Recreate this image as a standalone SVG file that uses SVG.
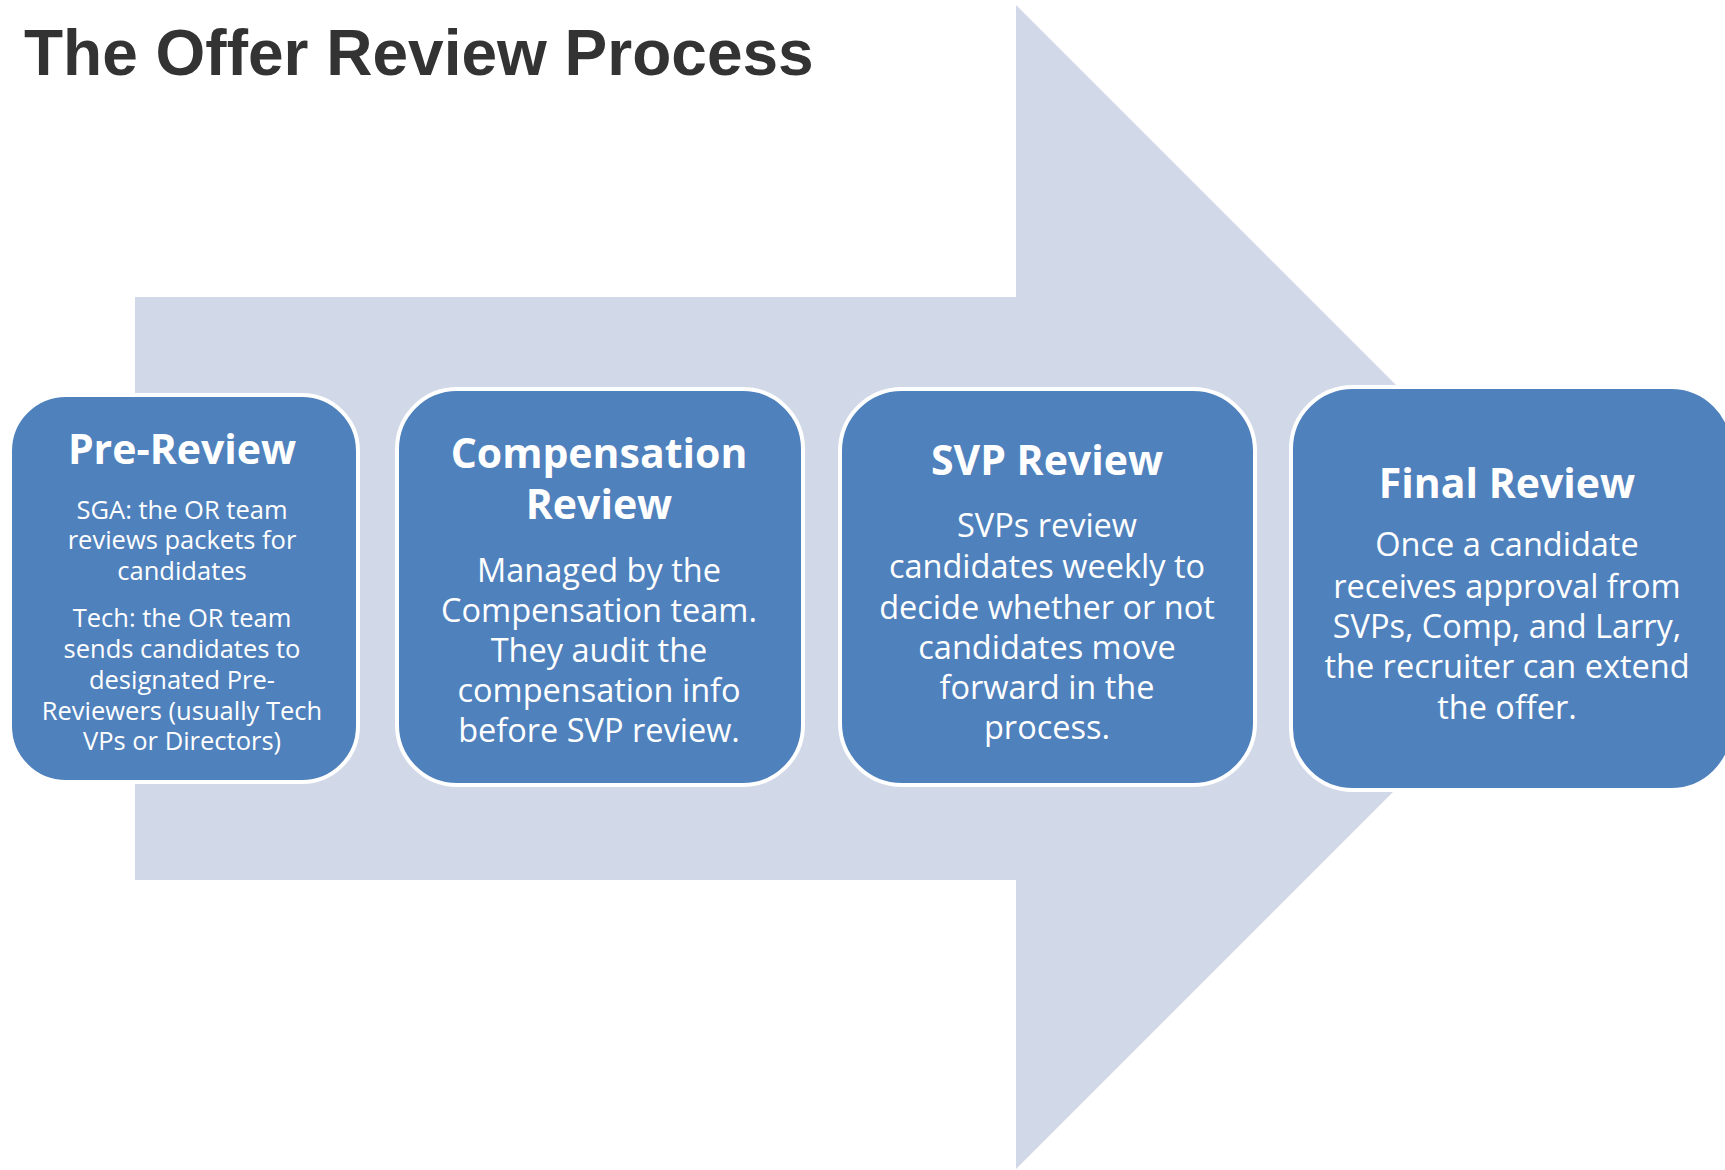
<svg xmlns="http://www.w3.org/2000/svg" width="1725" height="1170" viewBox="0 0 1725 1170">
<style>
.title{font-family:"Liberation Sans",Arial,sans-serif;font-weight:bold;font-size:64px;fill:#333333}
.box{fill:#4f81bd;stroke:#ffffff;stroke-width:4}
.h{font-family:"Open Sans","Noto Sans",sans-serif;font-weight:bold;font-size:41px;fill:#ffffff;text-anchor:middle}
.b{font-family:"Open Sans","Noto Sans",sans-serif;font-size:32.5px;fill:#ffffff;text-anchor:middle}
.s{font-family:"Open Sans","Noto Sans",sans-serif;font-size:25.5px;fill:#ffffff;text-anchor:middle}
</style>
<rect width="1725" height="1170" fill="#ffffff"/>
<g id="arrow">
<polygon points="135,297 1016,297 1016,5 1598,587 1016,1169 1016,880 135,880" fill="#d1d8e7"/>
</g>
<text class="title" x="24" y="75">The Offer Review Process</text>
<g id="connectors"></g>
<g id="pre-review">
<rect class="box" x="10" y="395" width="348" height="387" rx="56" ry="56"/>
<text class="h" x="182" y="464">Pre-Review</text>
<text class="s" x="182" y="519">SGA: the OR team</text>
<text class="s" x="182" y="549">reviews packets for</text>
<text class="s" x="182" y="580">candidates</text>
<text class="s" x="182" y="627">Tech: the OR team</text>
<text class="s" x="182" y="658">sends candidates to</text>
<text class="s" x="182" y="689">designated Pre-</text>
<text class="s" x="182" y="720">Reviewers (usually Tech</text>
<text class="s" x="182" y="750">VPs or Directors)</text>
</g>
<g id="compensation-review">
<rect class="box" x="397" y="389" width="406" height="396" rx="60" ry="60"/>
<text class="h" x="599" y="468">Compensation</text>
<text class="h" x="599" y="519">Review</text>
<text class="b" x="599" y="582">Managed by the</text>
<text class="b" x="599" y="622">Compensation team.</text>
<text class="b" x="599" y="662">They audit the</text>
<text class="b" x="599" y="702">compensation info</text>
<text class="b" x="599" y="742">before SVP review.</text>
</g>
<g id="svp-review">
<rect class="box" x="840" y="389" width="415" height="396" rx="62" ry="62"/>
<text class="h" x="1047" y="475">SVP Review</text>
<text class="b" x="1047" y="537">SVPs review</text>
<text class="b" x="1047" y="578">candidates weekly to</text>
<text class="b" x="1047" y="619">decide whether or not</text>
<text class="b" x="1047" y="659">candidates move</text>
<text class="b" x="1047" y="699">forward in the</text>
<text class="b" x="1047" y="739">process.</text>
</g>
<g id="final-review">
<rect class="box" x="1291" y="387" width="442" height="403" rx="62" ry="62"/>
<text class="h" x="1507" y="498">Final Review</text>
<text class="b" x="1507" y="556">Once a candidate</text>
<text class="b" x="1507" y="598">receives approval from</text>
<text class="b" x="1507" y="638">SVPs, Comp, and Larry,</text>
<text class="b" x="1507" y="678">the recruiter can extend</text>
<text class="b" x="1507" y="719">the offer.</text>
</g>
</svg>
